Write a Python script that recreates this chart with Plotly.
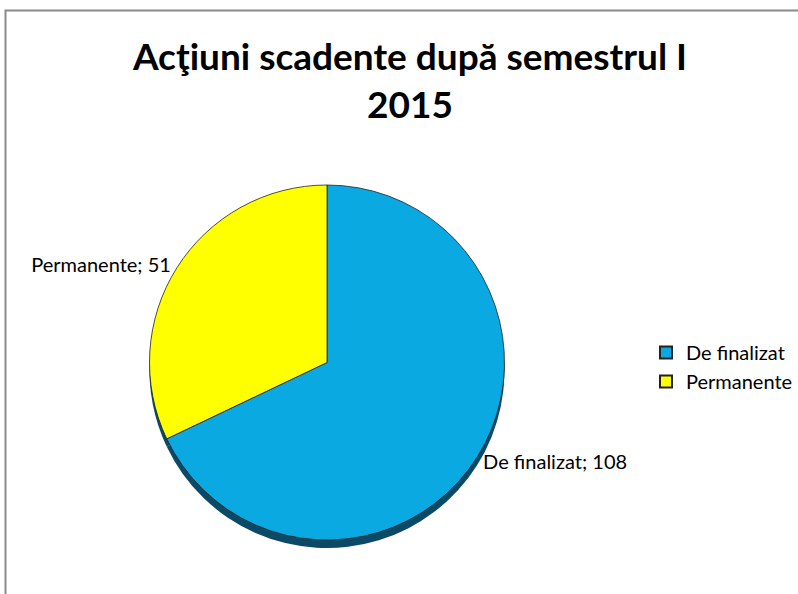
import plotly.graph_objects as go

categories = ["De finalizat", "Permanente"]
values = [108, 51]
slice_colors = ["#0AA9E2", "#FFFF00"]
shadow_colors = ["#0B4A66", "#0B4A66"]
title_lines = ["Acţiuni scadente după semestrul I", "2015"]

W, H = 798, 594
pie_x = [146 / W, 508 / W]
pie_y = [1 - 540 / H, 1 - 185 / H]
shift = 8 / H
FONT = "Lato, Open Sans, sans-serif"

fig = go.Figure()
# shadow (3D edge) drawn behind the pie
fig.add_trace(go.Pie(
    labels=categories, values=values, sort=False, direction="clockwise", rotation=0,
    marker=dict(colors=shadow_colors, line=dict(width=0)),
    textinfo="none", hoverinfo="skip", showlegend=False,
    domain=dict(x=pie_x, y=[pie_y[0] - shift, pie_y[1] - shift]),
))
fig.add_trace(go.Pie(
    labels=categories, values=values, sort=False, direction="clockwise", rotation=0,
    marker=dict(colors=slice_colors, line=dict(color="#222222", width=0.8)),
    texttemplate="%{label}; %{value}", textposition="outside",
    textfont=dict(family=FONT, size=20, color="#000000"),
    domain=dict(x=pie_x, y=pie_y),
))

fig.update_layout(
    width=W, height=H,
    margin=dict(l=0, r=0, t=0, b=0),
    paper_bgcolor="white",
    title=dict(
        text="<b>" + "<br>".join(title_lines) + "</b>",
        x=410 / W, xanchor="center", y=1 - 70 / H, yanchor="top",
        font=dict(family=FONT, size=37, color="#000000"),
    ),
    legend=dict(
        x=646 / W, xanchor="left", y=1 - 367 / H, yanchor="middle",
        font=dict(family=FONT, size=20, color="#000000"),
        itemsizing="constant", itemwidth=30,
        bgcolor="rgba(0,0,0,0)",
    ),
    shapes=[dict(type="rect", xref="paper", yref="paper",
                 x0=5.5 / W, x1=1.01, y0=-0.01, y1=1 - 10.5 / H,
                 line=dict(color="#8a8a8a", width=2), fillcolor="rgba(0,0,0,0)", layer="below")],
)

fig.write_html("out.html", config={"displayModeBar": False},
               post_script="document.body.style.margin='0';")
